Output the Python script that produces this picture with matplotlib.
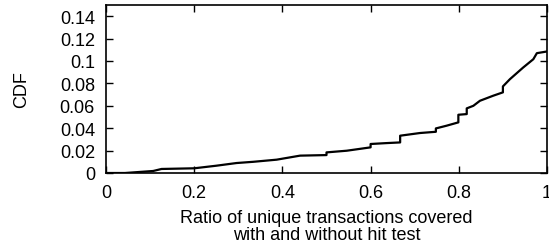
import matplotlib
matplotlib.use("Agg")
import matplotlib.pyplot as plt
import numpy as np

# CDF curve (vertical steps repeat the x value)
ratio = [0.0, 0.043, 0.107, 0.126, 0.2, 0.25, 0.296, 0.334, 0.387, 0.44,
         0.5, 0.5, 0.546, 0.6, 0.6, 0.636, 0.667, 0.667, 0.712, 0.748,
         0.748, 0.772, 0.799, 0.799, 0.818, 0.818, 0.833, 0.848, 0.878,
         0.9, 0.9, 0.916, 0.946, 0.969, 0.977, 1.0]
cdf = [0.0, 0.0, 0.0018, 0.0036, 0.0042, 0.0065, 0.0089, 0.010, 0.0119,
       0.0155, 0.016, 0.0184, 0.0199, 0.0229, 0.0259, 0.0267, 0.0273,
       0.0333, 0.0357, 0.0368, 0.0398, 0.0422, 0.0452, 0.052, 0.0526,
       0.0577, 0.060, 0.0645, 0.069, 0.072, 0.0773, 0.0838, 0.0942,
       0.1016, 0.107, 0.1085]

xticks = [0, 0.2, 0.4, 0.6, 0.8, 1]
xtick_labels = ["0", "0.2", "0.4", "0.6", "0.8", "1"]
yticks = [0, 0.02, 0.04, 0.06, 0.08, 0.1, 0.12, 0.14]
ytick_labels = ["0", "0.02", "0.04", "0.06", "0.08", "0.1", "0.12", "0.14"]

plt.rcParams["font.family"] = ["Liberation Sans", "DejaVu Sans"]
plt.rcParams["font.size"] = 13

fig = plt.figure(figsize=(5.49, 2.53), dpi=100)
ax = fig.add_axes([106 / 549, 1 - 174 / 253, 441 / 549, 168 / 253])

ax.plot(ratio, cdf, color="black", linewidth=1.6)

ax.set_xlim(0, 1)
ax.set_ylim(0, 0.15)
ax.set_xticks(xticks)
ax.set_xticklabels(xtick_labels)
ax.set_yticks(yticks)
ax.set_yticklabels(ytick_labels)
ax.tick_params(direction="in", length=5, width=1, top=True, right=True,
               labelsize=13)
ax.tick_params(axis="x", pad=8)
ax.tick_params(axis="y", pad=8)
for s in ax.spines.values():
    s.set_linewidth(1.2)

ax.set_xlabel("Ratio of unique transactions covered\nwith and without hit test",
              fontsize=13, linespacing=0.95, labelpad=6)
ax.set_ylabel("CDF", fontsize=13, labelpad=21)

fig.savefig("out.png", dpi=100)
